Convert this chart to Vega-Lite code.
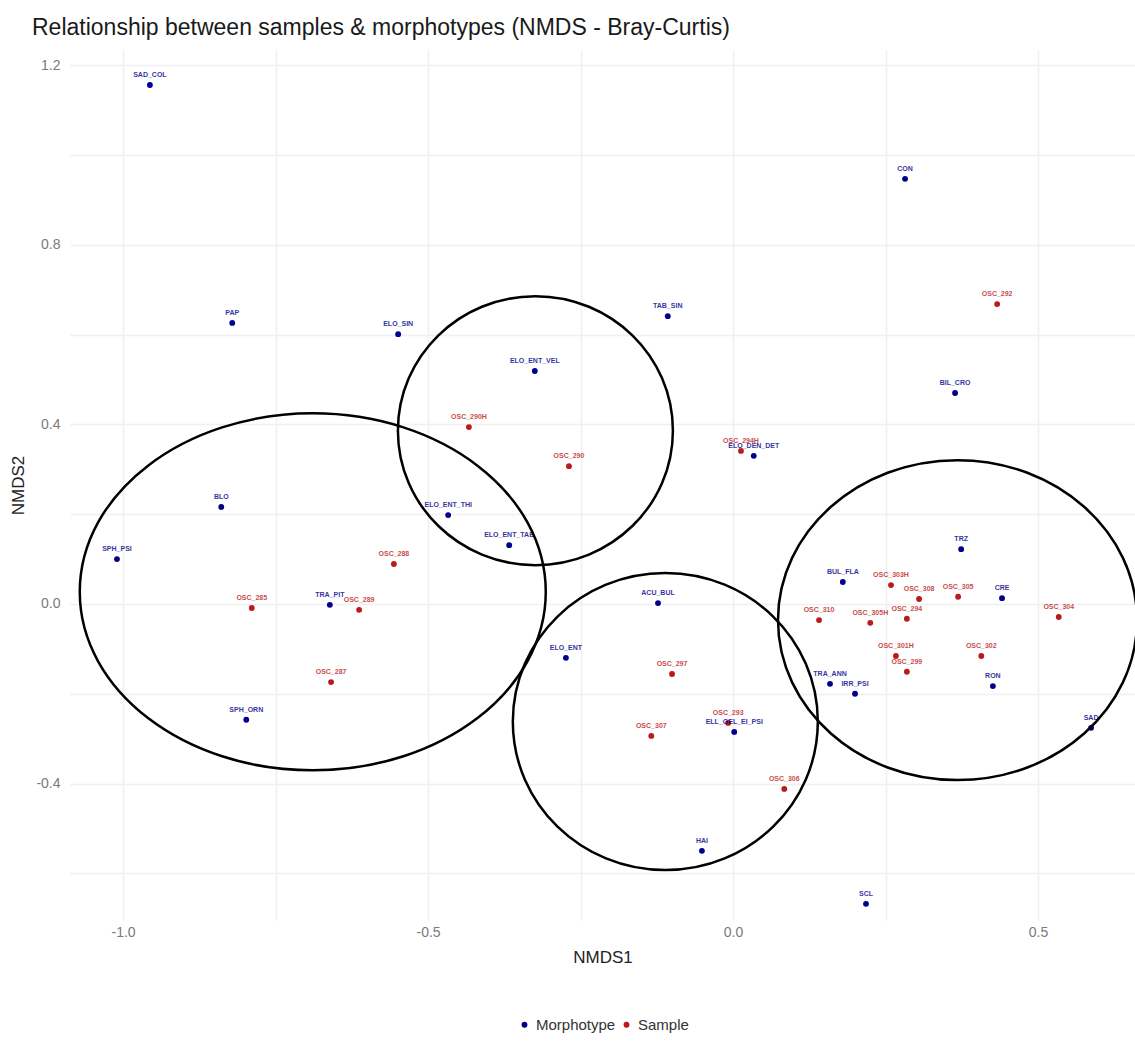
{
  "$schema": "https://vega.github.io/schema/vega-lite/v6.json",
  "width": 1065,
  "height": 870,
  "autosize": "none",
  "padding": {"left": 70, "top": 50, "right": 0, "bottom": 131},
  "background": "white",
  "title": {
    "text": "Relationship between samples & morphotypes (NMDS - Bray-Curtis)",
    "anchor": "start",
    "frame": "group",
    "dx": -38,
    "offset": 10,
    "font": "Liberation Sans",
    "fontSize": 23,
    "fontWeight": "normal",
    "color": "#1a1a1a"
  },
  "config": {
    "view": {"stroke": null},
    "axis": {
      "domain": false,
      "ticks": false,
      "grid": true,
      "gridColor": "#f0f0f0",
      "gridWidth": 1.5,
      "labelFont": "Liberation Sans",
      "labelFontSize": 14,
      "labelColor": "#7a7a7a",
      "titleFont": "Liberation Sans",
      "titleFontSize": 17,
      "titleFontWeight": "normal",
      "titleColor": "#222222"
    }
  },
  "datasets": {
    "pts": [
      {"name": "SAD_COL", "type": "Morphotype", "NMDS1": -0.956, "NMDS2": 1.156},
      {"name": "CON", "type": "Morphotype", "NMDS1": 0.282, "NMDS2": 0.947},
      {"name": "PAP", "type": "Morphotype", "NMDS1": -0.821, "NMDS2": 0.626},
      {"name": "ELO_SIN", "type": "Morphotype", "NMDS1": -0.549, "NMDS2": 0.601},
      {"name": "TAB_SIN", "type": "Morphotype", "NMDS1": -0.107, "NMDS2": 0.641},
      {"name": "ELO_ENT_VEL", "type": "Morphotype", "NMDS1": -0.325, "NMDS2": 0.519},
      {"name": "BIL_CRO", "type": "Morphotype", "NMDS1": 0.364, "NMDS2": 0.47},
      {"name": "ELO_DEN_DET", "type": "Morphotype", "NMDS1": 0.034, "NMDS2": 0.33},
      {"name": "BLO", "type": "Morphotype", "NMDS1": -0.839, "NMDS2": 0.216},
      {"name": "ELO_ENT_THI", "type": "Morphotype", "NMDS1": -0.467, "NMDS2": 0.198},
      {"name": "ELO_ENT_TAB", "type": "Morphotype", "NMDS1": -0.367, "NMDS2": 0.131},
      {"name": "SPH_PSI", "type": "Morphotype", "NMDS1": -1.01, "NMDS2": 0.1},
      {"name": "TRZ", "type": "Morphotype", "NMDS1": 0.374, "NMDS2": 0.122},
      {"name": "BUL_FLA", "type": "Morphotype", "NMDS1": 0.18, "NMDS2": 0.049},
      {"name": "CRE", "type": "Morphotype", "NMDS1": 0.441, "NMDS2": 0.013},
      {"name": "ACU_BUL", "type": "Morphotype", "NMDS1": -0.123, "NMDS2": 0.002},
      {"name": "TRA_PIT", "type": "Morphotype", "NMDS1": -0.661, "NMDS2": -0.002},
      {"name": "ELO_ENT", "type": "Morphotype", "NMDS1": -0.274, "NMDS2": -0.12},
      {"name": "TRA_ANN", "type": "Morphotype", "NMDS1": 0.159, "NMDS2": -0.178},
      {"name": "IRR_PSI", "type": "Morphotype", "NMDS1": 0.2, "NMDS2": -0.2},
      {"name": "RON", "type": "Morphotype", "NMDS1": 0.426, "NMDS2": -0.183},
      {"name": "SPH_ORN", "type": "Morphotype", "NMDS1": -0.798, "NMDS2": -0.258},
      {"name": "ELL_GEL_EI_PSI", "type": "Morphotype", "NMDS1": 0.002, "NMDS2": -0.285},
      {"name": "SAD", "type": "Morphotype", "NMDS1": 0.587, "NMDS2": -0.276},
      {"name": "HAI", "type": "Morphotype", "NMDS1": -0.051, "NMDS2": -0.55},
      {"name": "SCL", "type": "Morphotype", "NMDS1": 0.218, "NMDS2": -0.668},
      {"name": "OSC_292", "type": "Sample", "NMDS1": 0.433, "NMDS2": 0.668},
      {"name": "OSC_290H", "type": "Sample", "NMDS1": -0.433, "NMDS2": 0.394},
      {"name": "OSC_290", "type": "Sample", "NMDS1": -0.269, "NMDS2": 0.307},
      {"name": "OSC_294H", "type": "Sample", "NMDS1": 0.013, "NMDS2": 0.341},
      {"name": "OSC_288", "type": "Sample", "NMDS1": -0.556, "NMDS2": 0.089},
      {"name": "OSC_285", "type": "Sample", "NMDS1": -0.789, "NMDS2": -0.009},
      {"name": "OSC_289", "type": "Sample", "NMDS1": -0.613, "NMDS2": -0.013},
      {"name": "OSC_287", "type": "Sample", "NMDS1": -0.659, "NMDS2": -0.174},
      {"name": "OSC_297", "type": "Sample", "NMDS1": -0.1, "NMDS2": -0.156},
      {"name": "OSC_293", "type": "Sample", "NMDS1": -0.008, "NMDS2": -0.265},
      {"name": "OSC_307", "type": "Sample", "NMDS1": -0.134, "NMDS2": -0.294},
      {"name": "OSC_306", "type": "Sample", "NMDS1": 0.084, "NMDS2": -0.412},
      {"name": "OSC_303H", "type": "Sample", "NMDS1": 0.259, "NMDS2": 0.042},
      {"name": "OSC_308", "type": "Sample", "NMDS1": 0.305, "NMDS2": 0.011},
      {"name": "OSC_305", "type": "Sample", "NMDS1": 0.369, "NMDS2": 0.016},
      {"name": "OSC_310", "type": "Sample", "NMDS1": 0.141, "NMDS2": -0.036},
      {"name": "OSC_305H", "type": "Sample", "NMDS1": 0.225, "NMDS2": -0.042},
      {"name": "OSC_294", "type": "Sample", "NMDS1": 0.285, "NMDS2": -0.033},
      {"name": "OSC_301H", "type": "Sample", "NMDS1": 0.267, "NMDS2": -0.116},
      {"name": "OSC_299", "type": "Sample", "NMDS1": 0.285, "NMDS2": -0.151},
      {"name": "OSC_302", "type": "Sample", "NMDS1": 0.407, "NMDS2": -0.116},
      {"name": "OSC_304", "type": "Sample", "NMDS1": 0.534, "NMDS2": -0.029}
    ]
  },
  "encoding": {
    "x": {
      "field": "NMDS1",
      "type": "quantitative",
      "scale": {"domain": [-1.087, 0.659], "nice": false, "zero": false},
      "axis": {
        "title": "NMDS1",
        "values": [-1, -0.75, -0.5, -0.25, 0, 0.25, 0.5],
        "labelExpr": "abs(datum.value * 2 - round(datum.value * 2)) < 0.001 ? replace(format(datum.value, '.1f'), '\u2212', '-') : ''",
        "labelPadding": 5,
        "titlePadding": 10
      }
    },
    "y": {
      "field": "NMDS2",
      "type": "quantitative",
      "scale": {"domain": [-0.704, 1.234], "nice": false, "zero": false},
      "axis": {
        "title": "NMDS2",
        "values": [-0.6, -0.4, -0.2, 0, 0.2, 0.4, 0.6, 0.8, 1.0, 1.2],
        "labelExpr": "abs(datum.value / 0.4 - round(datum.value / 0.4)) < 0.001 ? replace(format(datum.value, '.1f'), '\u2212', '-') : ''",
        "labelPadding": 10,
        "titlePadding": 8
      }
    }
  },
  "layer": [
    {
      "data": {"name": "pts"},
      "mark": {"type": "point", "filled": true, "opacity": 1, "size": 34},
      "encoding": {
        "color": {
          "field": "type",
          "type": "nominal",
          "scale": {"domain": ["Morphotype", "Sample"], "range": ["#00008b", "#bb1a1a"]},
          "legend": {
            "title": null,
            "orient": "none",
            "direction": "horizontal",
            "legendX": 447,
            "legendY": 967,
            "symbolType": "circle",
            "symbolSize": 34,
            "labelFont": "Liberation Sans",
            "labelFontSize": 15,
            "labelColor": "#333333",
            "labelOffset": 4,
            "columnPadding": 3
          }
        }
      }
    },
    {
      "data": {"name": "pts"},
      "mark": {"type": "text", "dy": -10, "font": "Liberation Sans", "fontSize": 7, "fontWeight": "bold", "opacity": 0.8},
      "encoding": {
        "text": {"field": "name"},
        "color": {"field": "type", "type": "nominal"}
      }
    },
    {
      "data": {"values": [{"NMDS1": -0.689, "NMDS2": 0.027}]},
      "mark": {"type": "point", "filled": false, "stroke": "black", "strokeWidth": 2.5, "opacity": 1, "size": 217156,
        "shape": "M1,0C1,0.423,0.552,0.766,0,0.766C-0.552,0.766,-1,0.423,-1,0C-1,-0.423,-0.552,-0.766,0,-0.766C0.552,-0.766,1,-0.423,1,0Z"}
    },
    {
      "data": {"values": [{"NMDS1": -0.324, "NMDS2": 0.386}]},
      "mark": {"type": "point", "filled": false, "stroke": "black", "strokeWidth": 2.5, "opacity": 1, "size": 75625,
        "shape": "M1,0C1,0.540,0.552,0.978,0,0.978C-0.552,0.978,-1,0.540,-1,0C-1,-0.540,-0.552,-0.978,0,-0.978C0.552,-0.978,1,-0.540,1,0Z"}
    },
    {
      "data": {"values": [{"NMDS1": -0.111, "NMDS2": -0.262}]},
      "mark": {"type": "point", "filled": false, "stroke": "black", "strokeWidth": 2.5, "opacity": 1, "size": 93025,
        "shape": "M1,0C1,0.538,0.552,0.974,0,0.974C-0.552,0.974,-1,0.538,-1,0C-1,-0.538,-0.552,-0.974,0,-0.974C0.552,-0.974,1,-0.538,1,0Z"}
    },
    {
      "data": {"values": [{"NMDS1": 0.368, "NMDS2": -0.036}]},
      "mark": {"type": "point", "filled": false, "stroke": "black", "strokeWidth": 2.5, "opacity": 1, "size": 128881,
        "shape": "M1,0C1,0.492,0.552,0.891,0,0.891C-0.552,0.891,-1,0.492,-1,0C-1,-0.492,-0.552,-0.891,0,-0.891C0.552,-0.891,1,-0.492,1,0Z"}
    }
  ]
}
